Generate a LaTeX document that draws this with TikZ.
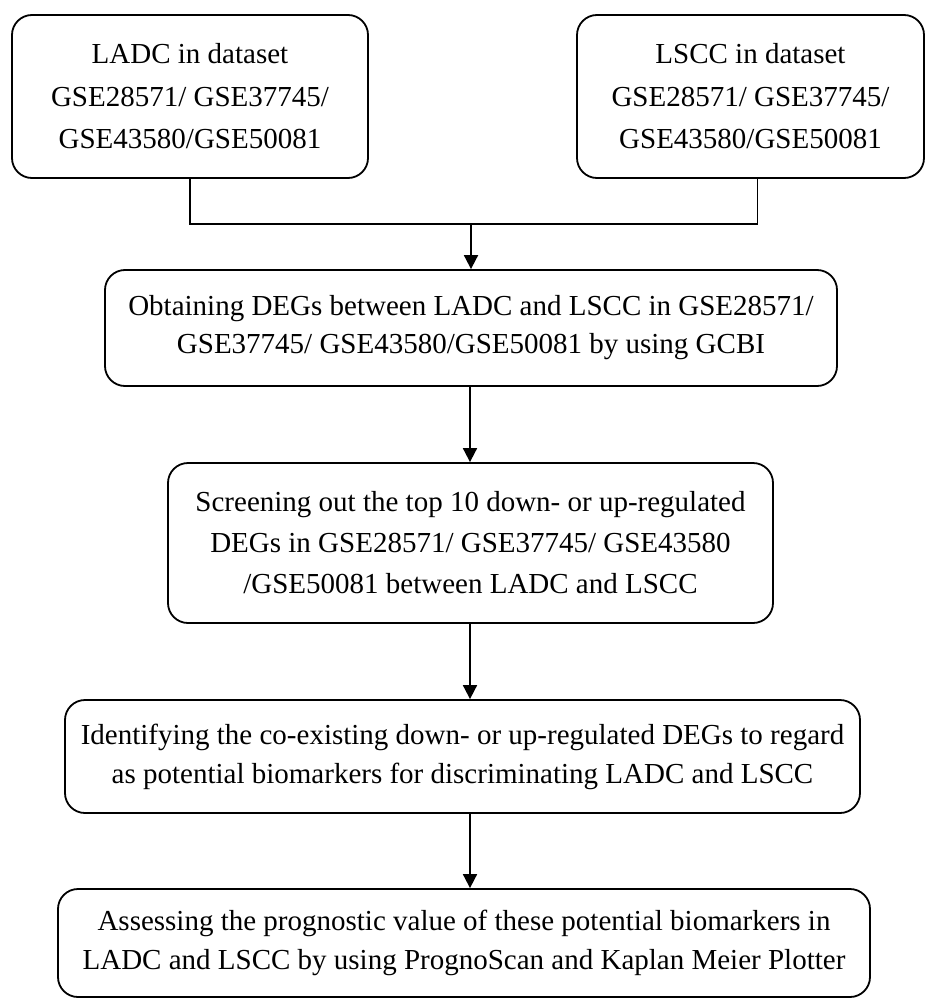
\documentclass[tikz,border=0pt]{standalone}
\usepackage{fontspec}
\setmainfont{Liberation Serif}
\usetikzlibrary{arrows.meta}
\begin{document}
\begin{tikzpicture}[x=1pt,y=-1pt,
  box/.style={draw, line width=1.8pt, rounded corners=20pt, inner sep=0pt, align=center},
  arr/.style={line width=1.8pt, -{Triangle[width=14pt,length=14pt]}},
  link/.style={line width=1.8pt, line cap=rect}]
\useasboundingbox (0,0) rectangle (926,998);
\node[box, minimum width=356pt, minimum height=163pt, font=\fontsize{29}{42.5}\selectfont] (ladc) at (190,96.5)
  {LADC in dataset\\GSE28571/ GSE37745/\\GSE43580/GSE50081};
\node[box, minimum width=347pt, minimum height=163pt, font=\fontsize{29}{42.5}\selectfont] (lscc) at (750.5,96.5)
  {LSCC in dataset\\GSE28571/ GSE37745/\\GSE43580/GSE50081};
\node[box, minimum width=732pt, minimum height=116pt, font=\fontsize{29}{38}\selectfont] (obt) at (471,328)
  {Obtaining DEGs between LADC and LSCC in GSE28571/\\GSE37745/ GSE43580/GSE50081 by using GCBI};
\node[box, minimum width=605pt, minimum height=160pt, font=\fontsize{29}{41}\selectfont] (scr) at (470.5,543)
  {Screening out the top 10 down- or up-regulated\\DEGs in GSE28571/ GSE37745/ GSE43580\\/GSE50081 between LADC and LSCC};
\node[box, minimum width=795pt, minimum height=113pt, font=\fontsize{29}{39}\selectfont] (idt) at (462.5,756.5)
  {Identifying the co-existing down- or up-regulated DEGs to regard\\as potential biomarkers for discriminating LADC and LSCC};
\node[box, minimum width=812pt, minimum height=108pt, font=\fontsize{29}{39}\selectfont] (ass) at (464,943)
  {Assessing the prognostic value of these potential biomarkers in\\LADC and LSCC by using PrognoScan and Kaplan Meier Plotter};
\coordinate (j) at (471,224);
\coordinate (sp) at (470,0);
\draw[link] (ladc.south) |- (j);
\draw[link] ([xshift=7pt]lscc.south) |- (j);
\draw[arr] (j) -- (j |- obt.north);
\draw[arr] (obt.south -| sp) -- (scr.north -| sp);
\draw[arr] (scr.south -| sp) -- (idt.north -| sp);
\draw[arr] (idt.south -| sp) -- (ass.north -| sp);
\end{tikzpicture}
\end{document}
